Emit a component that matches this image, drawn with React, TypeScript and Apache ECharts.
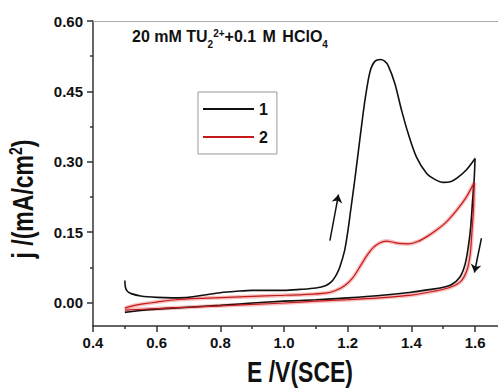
import React, { useEffect, useRef } from 'react';
import * as echarts from 'echarts';

const xMajorTicks = [0.4, 0.6, 0.8, 1.0, 1.2, 1.4, 1.6];
const xMinorTicks = [0.5, 0.7, 0.9, 1.1, 1.3, 1.5];
const yMajorTicks = [0, 0.15, 0.3, 0.45, 0.6];
const yMinorTicks = [0.075, 0.225, 0.375, 0.525];
const legendNames = ['1', '2'];

// curve 1 (black): [E (V), j (mA/cm2)]
const curve1Forward = [
  [0.5, 0.047], [0.502, 0.032], [0.508, 0.024], [0.52, 0.019], [0.55, 0.014],
  [0.6, 0.011], [0.65, 0.01], [0.7, 0.011], [0.75, 0.016], [0.8, 0.021],
  [0.85, 0.024], [0.9, 0.026], [0.95, 0.026], [1.0, 0.026], [1.05, 0.028],
  [1.1, 0.031], [1.13, 0.036], [1.15, 0.045], [1.165, 0.06], [1.175, 0.075],
  [1.19, 0.11], [1.2, 0.15], [1.21, 0.2], [1.22, 0.25], [1.233, 0.32],
  [1.245, 0.385], [1.255, 0.435], [1.27, 0.492], [1.285, 0.514], [1.303, 0.518],
  [1.315, 0.515], [1.327, 0.505], [1.348, 0.467], [1.369, 0.41], [1.39, 0.36],
  [1.416, 0.31], [1.448, 0.275], [1.475, 0.262], [1.5, 0.256], [1.525, 0.258],
  [1.545, 0.266], [1.573, 0.283], [1.6, 0.307],
];
const curve1Reverse = [
  [1.6, 0.307], [1.597, 0.26], [1.592, 0.215], [1.586, 0.16], [1.579, 0.12],
  [1.568, 0.08], [1.552, 0.054], [1.525, 0.038], [1.49, 0.031], [1.45, 0.027],
  [1.4, 0.022], [1.3, 0.015], [1.2, 0.01], [1.1, 0.006], [1.0, 0.003],
  [0.9, -0.001], [0.8, -0.006], [0.7, -0.01], [0.6, -0.014], [0.55, -0.017],
  [0.5, -0.021],
];

// curve 2 (red)
const curve2Forward = [
  [0.5, -0.012], [0.53, -0.006], [0.557, -0.003], [0.6, 0.001], [0.66, 0.006],
  [0.74, 0.009], [0.82, 0.011], [0.9, 0.013], [0.98, 0.015], [1.06, 0.017],
  [1.13, 0.02], [1.16, 0.025], [1.19, 0.036], [1.215, 0.052], [1.24, 0.078],
  [1.26, 0.1], [1.28, 0.117], [1.3, 0.127], [1.322, 0.131], [1.34, 0.129],
  [1.36, 0.126], [1.39, 0.125], [1.42, 0.13], [1.45, 0.141], [1.48, 0.155],
  [1.51, 0.172], [1.54, 0.195], [1.57, 0.222], [1.597, 0.255],
];
const curve2Reverse = [
  [1.597, 0.255], [1.595, 0.2], [1.59, 0.15], [1.585, 0.105], [1.575, 0.07],
  [1.555, 0.045], [1.52, 0.032], [1.47, 0.024], [1.4, 0.016], [1.3, 0.01],
  [1.2, 0.006], [1.1, 0.003], [1.0, -0.001], [0.9, -0.004], [0.8, -0.007],
  [0.7, -0.01], [0.6, -0.013], [0.5, -0.016],
];

// scan direction arrows: [start, end]
const arrowUp = [[1.144, 0.132], [1.171, 0.23]];
const arrowDown = [[1.62, 0.137], [1.598, 0.064]];

const xTitle = 'E /V(SCE)';
const yTitle = '{a|j /(mA/cm}{s|2}{a|)}';
const annotation = '{m|20 mM TU}{sb|2}{sp|2+}{m|+0.1}{g| }{m|M}{g| }{m|HClO}{sb|4}';

const FONT = '"Liberation Sans", Arial, Helvetica, sans-serif';

export default function App() {
  const ref = useRef<HTMLDivElement>(null);

  useEffect(() => {
    if (!ref.current) return;
    const chart = echarts.init(ref.current, null, { renderer: 'svg' });
    const black = '#111111';
    const red = '#c41a1a';
    const lineSeries = (name: string, data: number[][], color: string, width: number, z = 3) => ({
      type: 'line',
      name,
      data,
      symbol: 'none',
      showSymbol: false,
      smooth: 0.3,
      z,
      lineStyle: { color, width },
      itemStyle: { color },
      silent: true,
    });
    const axisLineStyle = { color: '#333', width: 1.5 };
    const txt = { fontWeight: 'bold', fill: '#111', fontFamily: FONT };
    chart.setOption({
      animation: false,
      backgroundColor: '#ffffff',
      grid: { left: 93, right: 0, top: 21, bottom: 62 },
      legend: {
        data: legendNames,
        icon: 'rect',
        orient: 'vertical',
        left: 198,
        top: 92,
        padding: [8, 9, 8, 5],
        itemWidth: 51,
        itemHeight: 2,
        itemGap: 10,
        itemTextGap: 5,
        borderColor: '#999',
        borderWidth: 1,
        textStyle: { fontSize: 16, fontWeight: 'bold', color: '#111', fontFamily: FONT, lineHeight: 18 },
        selectedMode: false,
      },
      xAxis: [
        {
          type: 'value',
          min: 0.4,
          max: 1.672,
          position: 'bottom',
          axisLine: { show: true, onZero: false, lineStyle: axisLineStyle },
          axisTick: { show: true, length: 6, customValues: xMajorTicks, lineStyle: axisLineStyle },
          axisLabel: {
            show: true,
            customValues: xMajorTicks,
            formatter: (v: number) => v.toFixed(1),
            fontSize: 15,
            fontWeight: 'bold',
            color: '#111',
            fontFamily: FONT,
            margin: 9,
          },
          splitLine: { show: false },
        },
        {
          type: 'value',
          min: 0.4,
          max: 1.672,
          position: 'bottom',
          axisLine: { show: false, onZero: false },
          axisTick: { show: true, length: 3, customValues: xMinorTicks, lineStyle: axisLineStyle },
          axisLabel: { show: false },
          splitLine: { show: false },
        },
        {
          type: 'value',
          min: 0.4,
          max: 1.672,
          position: 'top',
          axisLine: { show: true, onZero: false, lineStyle: { color: '#aaa', width: 1 } },
          axisTick: { show: false },
          axisLabel: { show: false },
          splitLine: { show: false },
        },
      ],
      yAxis: [
        {
          type: 'value',
          min: -0.05,
          max: 0.6,
          position: 'left',
          axisLine: { show: true, onZero: false, lineStyle: axisLineStyle },
          axisTick: { show: true, length: 6, customValues: yMajorTicks, lineStyle: axisLineStyle },
          axisLabel: {
            show: true,
            customValues: yMajorTicks,
            formatter: (v: number) => v.toFixed(2),
            fontSize: 15,
            fontWeight: 'bold',
            color: '#111',
            fontFamily: FONT,
            margin: 10,
          },
          splitLine: { show: false },
        },
        {
          type: 'value',
          min: -0.05,
          max: 0.6,
          position: 'left',
          axisLine: { show: false, onZero: false },
          axisTick: { show: true, length: 3, customValues: yMinorTicks, lineStyle: axisLineStyle },
          axisLabel: { show: false },
          splitLine: { show: false },
        },
      ],
      graphic: [
        {
          type: 'text',
          left: 132,
          top: 28,
          silent: true,
          style: {
            text: annotation,
            rich: {
              m: { fontSize: 16, ...txt },
              g: { fontSize: 16, ...txt, padding: [0, 1, 0, 1] },
              sb: { fontSize: 10, ...txt, padding: [17, 0, 0, 0] },
              sp: { fontSize: 10, ...txt, padding: [0, 0, 6, 0] },
            },
          },
        },
        {
          type: 'text',
          x: 300,
          y: 372,
          scaleY: 1.3,
          silent: true,
          style: { text: xTitle, fontSize: 23, ...txt, align: 'center', verticalAlign: 'middle' },
        },
        {
          type: 'text',
          x: 23,
          y: 199,
          rotation: Math.PI / 2,
          scaleY: 1.3,
          silent: true,
          style: {
            text: yTitle,
            align: 'center',
            verticalAlign: 'middle',
            rich: {
              a: { fontSize: 23, ...txt },
              s: { fontSize: 14, ...txt, padding: [0, 0, 12, 0] },
            },
          },
        },
      ],
      series: [
        lineSeries('1', curve1Forward, black, 1.6, 4),
        lineSeries('1', curve1Reverse, black, 1.6, 4),
        lineSeries('2 glow', curve2Forward, 'rgba(235,110,110,0.45)', 4, 2),
        lineSeries('2 glow', curve2Reverse, 'rgba(235,110,110,0.45)', 4, 2),
        lineSeries('2', curve2Forward, red, 1.2, 5),
        lineSeries('2', curve2Reverse, red, 1.2, 5),
        {
          type: 'lines',
          coordinateSystem: 'cartesian2d',
          xAxisIndex: 0,
          yAxisIndex: 0,
          symbol: ['none', 'arrow'],
          symbolSize: 8,
          silent: true,
          z: 6,
          lineStyle: { color: black, width: 1.5, opacity: 1 },
          data: [{ coords: arrowUp }, { coords: arrowDown }],
        },
      ],
    });
    return () => chart.dispose();
  }, []);

  return (
    <div
      ref={ref}
      style={{ position: 'fixed', left: 0, top: 0, width: 498, height: 388, background: '#fff' }}
    />
  );
}
